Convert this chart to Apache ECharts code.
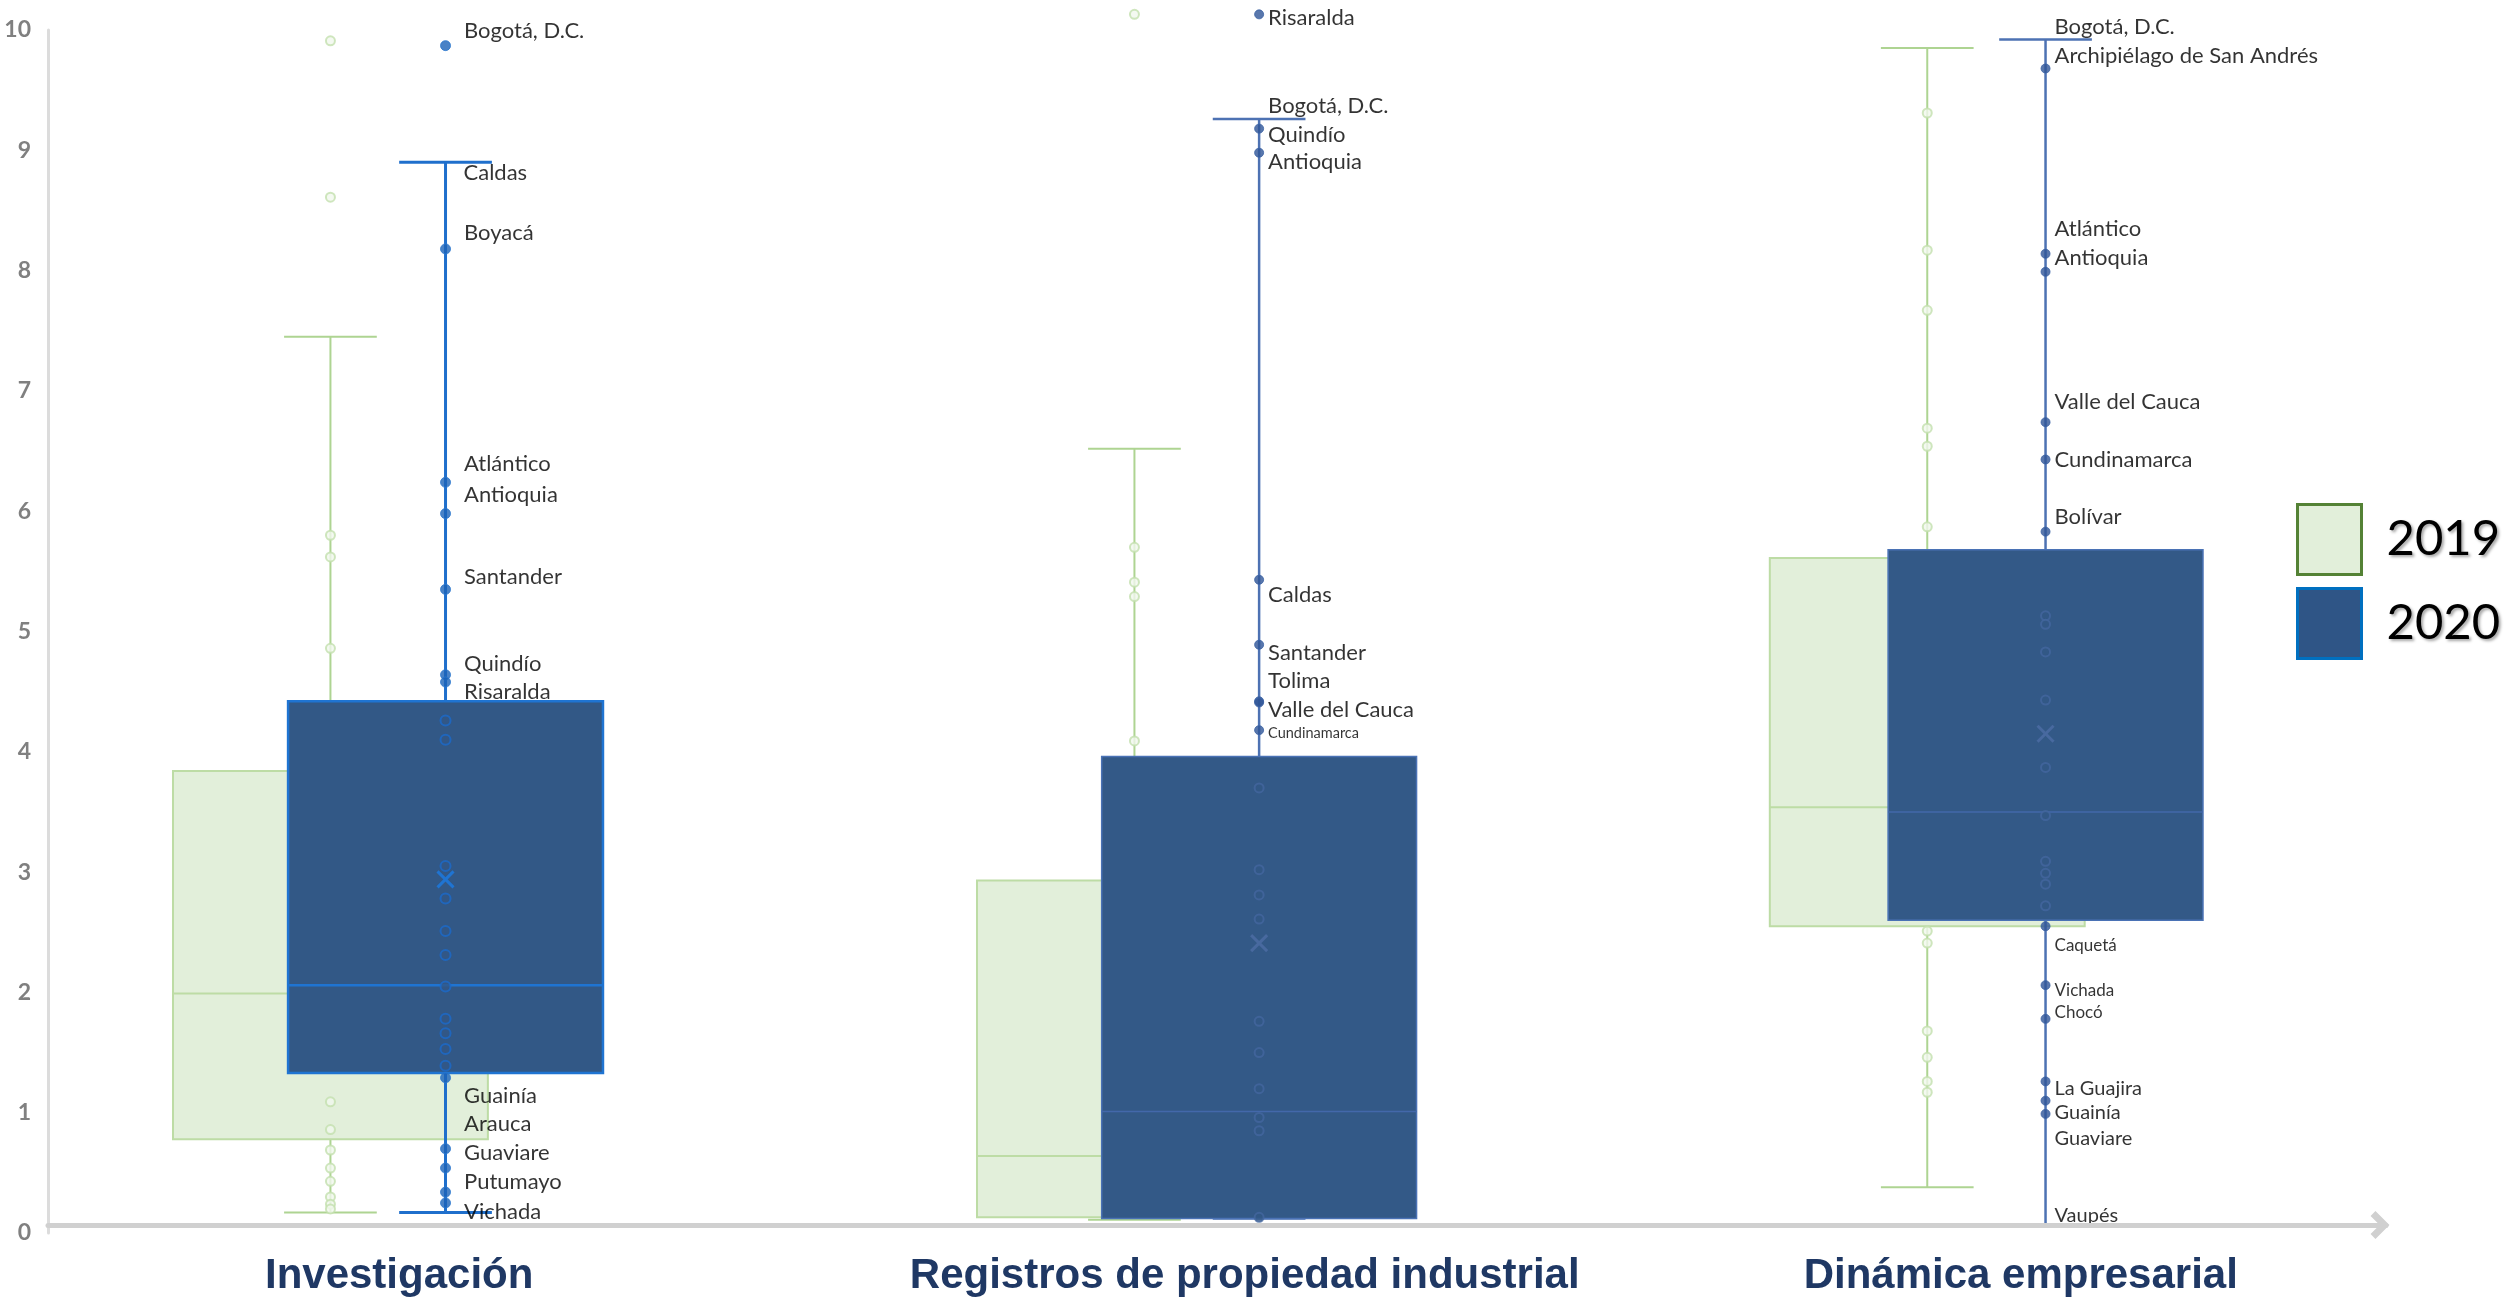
<!DOCTYPE html>
<html><head><meta charset="utf-8">
<script src="https://cdn.jsdelivr.net/npm/echarts@6/dist/echarts.min.js"></script>
<style>html,body{margin:0;padding:0;background:#fff}#c{width:2509px;height:1297px}</style>
</head><body><div id="c"></div>
<script>
// ---------------- DATA ----------------
const categories = ['Investigación', 'Registros de propiedad industrial', 'Dinámica empresarial'];
const years = ['2019', '2020'];
const yTicks = [0, 10, 1]; // min, max, interval

// box statistics: [whisker low, Q1, median, Q3, whisker high]
const box2019 = [
  [0.17, 0.78, 1.99, 3.84, 7.45],
  [0.11, 0.13, 0.64, 2.93, 6.52],
  [0.38, 2.55, 3.54, 5.61, 9.85]
];
const box2020 = [
  [0.17, 1.33, 2.06, 4.42, 8.90],
  [0.12, 0.12, 1.01, 3.96, 9.26],
  [0.06, 2.60, 3.50, 5.68, 9.92]
];
const mean2020 = [2.94, 2.41, 4.15];

// visible individual points
const pts2019Inv = [9.91, 8.61, 5.80, 5.62, 4.86, 1.09, 0.86, 0.69, 0.54, 0.43, 0.30, 0.24, 0.20];
const pts2019Reg = [10.13, 5.70, 5.41, 5.29, 4.09];
const pts2019Din = [9.31, 8.17, 7.67, 6.69, 6.54, 5.87, 2.51, 2.41, 1.68, 1.46, 1.26, 1.17];

const pts2020Inv = [
  ['Bogotá, D.C.', 9.87], ['Caldas', 8.90], ['Boyacá', 8.18], ['Atlántico', 6.24], ['Antioquia', 5.98],
  ['Santander', 5.35], ['Quindío', 4.64], ['Risaralda', 4.58], ['', 4.26], ['', 4.10], ['', 3.05],
  ['', 2.78], ['', 2.51], ['', 2.31], ['', 2.05], ['', 1.78], ['', 1.66], ['', 1.53], ['', 1.39],
  ['Guainía', 1.29], ['Arauca', 0.70], ['Guaviare', 0.54], ['Putumayo', 0.34], ['Vichada', 0.25]
];
const pts2020Reg = [
  ['Risaralda', 10.13], ['Bogotá, D.C.', 9.26], ['Quindío', 9.18], ['Antioquia', 8.98], ['Caldas', 5.43],
  ['Santander', 4.89], ['Tolima', 4.42], ['Valle del Cauca', 4.41], ['Cundinamarca', 4.18], ['', 3.70],
  ['', 3.02], ['', 2.81], ['', 2.61], ['', 1.76], ['', 1.50], ['', 1.20], ['', 0.96], ['', 0.85], ['', 0.13]
];
const pts2020Din = [
  ['Bogotá, D.C.', 9.92], ['Archipiélago de San Andrés', 9.68], ['Atlántico', 8.14], ['Antioquia', 7.99],
  ['Valle del Cauca', 6.74], ['Cundinamarca', 6.43], ['Bolívar', 5.83], ['', 5.13], ['', 5.06], ['', 4.83],
  ['', 4.43], ['', 3.87], ['', 3.47], ['', 3.09], ['', 2.99], ['', 2.90], ['', 2.72], ['Caquetá', 2.55],
  ['Vichada', 2.06], ['Chocó', 1.78], ['La Guajira', 1.26], ['Guainía', 1.10], ['Guaviare', 0.99], ['Vaupés', 0.06]
];

// ---------------- LAYOUT / STYLE ----------------
const X_MIN = -0.4254, X_MAX = 2.5;
const xPos = { '2019': [-0.072, 0.934, 1.926], '2020': [0.072, 1.090, 2.074] };
const BOX_W = 0.394, CAP_W = 0.116;
const labelPos = [0.014, 1.072, 2.043];
const labelDist = [13, 4, 4];
const labelDy = {
  '0|Bogotá, D.C.': -15, '0|Caldas': 11, '0|Boyacá': -16, '0|Atlántico': -18, '0|Antioquia': -19,
  '0|Santander': -12, '0|Quindío': -11, '0|Risaralda': 10, '0|Guainía': 18, '0|Arauca': -25,
  '0|Guaviare': -15, '0|Putumayo': -10, '0|Vichada': 9,
  '1|Risaralda': 4, '1|Bogotá, D.C.': -13, '1|Quindío': 6, '1|Antioquia': 9, '1|Caldas': 15,
  '1|Santander': 8, '1|Tolima': -20, '1|Valle del Cauca': 7, '1|Cundinamarca': 3,
  '2|Bogotá, D.C.': -13, '2|Archipiélago de San Andrés': -13, '2|Atlántico': -25, '2|Antioquia': -14,
  '2|Valle del Cauca': -20, '2|Cundinamarca': 0, '2|Bolívar': -15, '2|Caquetá': 19, '2|Vichada': 5,
  '2|Chocó': -6, '2|La Guajira': 7, '2|Guainía': 12, '2|Guaviare': 25, '2|Vaupés': -10
};
const labelSize = {
  '1|Cundinamarca': 14.5, '2|Caquetá': 17, '2|Vichada': 17, '2|Chocó': 17,
  '2|La Guajira': 20, '2|Guainía': 20, '2|Guaviare': 20, '2|Vaupés': 20
};

function boxStyle(year, i) {
  if (year === '2019') return { fill: '#e2efda', border: '#bddca5', bw: 2, whisker: '#aed492', ww: 2, median: '#bddca5', mw: 2 };
  if (i === 0) return { fill: '#325886', border: '#1f74d2', bw: 2.5, whisker: '#1f6fcc', ww: 3, median: '#1f74d2', mw: 2.5, mean: '#1f74d2' };
  return { fill: '#335987', border: '#4a72b5', bw: 1.5, whisker: '#4d72b3', ww: 2.5, median: '#4368aa', mw: 1.5, mean: '#48699f' };
}

function boxRender(year) {
  return function (params, api) {
    const i = api.value(0);
    const cx = api.coord([xPos[year][i], 0])[0];
    const y = k => api.coord([0, api.value(k)])[1];
    const yMin = y(1), yQ1 = y(2), yMed = y(3), yQ3 = y(4), yMax = y(5);
    const bw = api.size([BOX_W, 0])[0];
    const cw = api.size([CAP_W, 0])[0];
    const s = boxStyle(year, i);
    const ln = (x1, y1, x2, y2, c, w) => ({ type: 'line', shape: { x1, y1, x2, y2 }, style: { stroke: c, lineWidth: w } });
    const ch = [
      ln(cx, yQ3, cx, yMax, s.whisker, s.ww),
      ln(cx - cw / 2, yMax, cx + cw / 2, yMax, s.whisker, s.ww),
      ln(cx, yQ1, cx, yMin, s.whisker, s.ww),
      ln(cx - cw / 2, yMin, cx + cw / 2, yMin, s.whisker, s.ww),
      { type: 'rect', shape: { x: cx - bw / 2, y: yQ3, width: bw, height: yQ1 - yQ3 }, style: { fill: s.fill, stroke: s.border, lineWidth: s.bw } },
      ln(cx - bw / 2, yMed, cx + bw / 2, yMed, s.median, s.mw)
    ];
    const mv = api.value(6);
    if (s.mean && mv != null && !isNaN(mv)) {
      const ym = api.coord([0, mv])[1];
      const d = 8;
      ch.push(ln(cx - d, ym - d, cx + d, ym + d, s.mean, 3));
      ch.push(ln(cx - d, ym + d, cx + d, ym - d, s.mean, 3));
    }
    return { type: 'group', children: ch };
  };
}

const boxData2019 = box2019.map((b, i) => [i].concat(b, [null]));
const boxData2020 = box2020.map((b, i) => [i].concat(b, [mean2020[i]]));

function pts2019Data() {
  const out = [];
  [pts2019Inv, pts2019Reg, pts2019Din].forEach((list, i) => {
    list.forEach(v => out.push({ value: [xPos['2019'][i], v] }));
  });
  return out;
}
const dy2020 = [];
function pts2020Data() {
  const out = [];
  [pts2020Inv, pts2020Reg, pts2020Din].forEach((list, i) => {
    const b = box2020[i];
    list.forEach(([name, v]) => {
      const inside = v >= b[1] && v <= b[3];
      const onCap = v === b[4] || v === b[0];
      const bright = i === 0;
      const stroke = bright ? '#1c6acb' : (inside ? '#43679f' : '#2f5597');
      const key = i + '|' + name;
      const item = {
        name: name,
        value: [xPos['2020'][i], v],
        symbolSize: onCap ? 0 : (bright ? 10 : 9),
        itemStyle: inside ? { color: '#325886', borderColor: stroke, borderWidth: 2 }
                          : { color: bright ? '#1b63b8' : '#2f5597', borderColor: bright ? '#2b78d0' : '#3a62a4', borderWidth: 1 }
      };
      if (name) {
        item.label = {
          show: true, position: 'right', distance: labelDist[i] + (onCap ? 5 : 0),
          fontSize: labelSize[key] || 22
        };
      }
      dy2020.push(labelDy[key] || 0);
      out.push(item);
    });
  });
  return out;
}
const data2020 = pts2020Data();

const chart = echarts.init(document.getElementById('c'));
chart.setOption({
  animation: false,
  backgroundColor: '#ffffff',
  grid: { left: 48, right: 123, top: 30, bottom: 64 },
  legend: {
    orient: 'vertical', left: 2296, top: 503, padding: 0, itemWidth: 64, itemHeight: 70, itemGap: 11,
    selectedMode: false, icon: 'rect',
    textStyle: {
      fontFamily: 'Lato', fontSize: 49, color: '#000', padding: [0, 0, 0, 20],
      textShadowColor: 'rgba(0,0,0,0.35)', textShadowBlur: 3, textShadowOffsetX: 2, textShadowOffsetY: 2
    },
    data: [
      { name: years[0], itemStyle: { color: '#e2efda', borderColor: '#548235', borderWidth: 3 } },
      { name: years[1], itemStyle: { color: '#2f5586', borderColor: '#0070c0', borderWidth: 3 } }
    ]
  },
  xAxis: {
    type: 'value', min: X_MIN, max: X_MAX, offset: -8, z: 10,
    splitLine: { show: false }, axisTick: { show: false },
    axisLine: {
      show: true, onZero: false,
      lineStyle: { color: '#d0d0d0', width: 5 },
      symbol: ['none', 'path://M0,10 L10,0 L20,10 L16.5,13.5 L10,7 L3.5,13.5 Z'],
      symbolSize: [28, 22], symbolOffset: [0, -6]
    },
    axisLabel: {
      customValues: labelPos,
      formatter: v => { const k = labelPos.findIndex(p => Math.abs(p - v) < 1e-6); return k >= 0 ? categories[k] : ''; },
      fontFamily: 'Liberation Sans', fontWeight: 'bold', fontSize: 42, color: '#1f3864', margin: 30
    }
  },
  yAxis: {
    type: 'value', min: yTicks[0], max: yTicks[1], interval: yTicks[2],
    splitLine: { show: false }, axisTick: { show: false },
    axisLine: { show: true, onZero: false, lineStyle: { color: '#dcdcdc', width: 3 } },
    axisLabel: { fontFamily: 'Lato', fontWeight: 'bold', fontSize: 23, color: '#808080', margin: 17 }
  },
  series: [
    { name: years[0], type: 'custom', z: 2, clip: false, renderItem: boxRender('2019'),
      encode: { x: 0, y: [1, 2, 3, 4, 5] }, data: boxData2019,
      itemStyle: { color: '#e2efda', borderColor: '#548235' } },
    { name: years[0], type: 'scatter', z: 3, clip: false, symbol: 'circle', symbolSize: 9,
      itemStyle: { color: '#f1f8ee', borderColor: '#c3e0ae', borderWidth: 2 },
      data: pts2019Data() },
    { name: years[1], type: 'custom', z: 4, clip: false, renderItem: boxRender('2020'),
      encode: { x: 0, y: [1, 2, 3, 4, 5] }, data: boxData2020,
      itemStyle: { color: '#2f5586', borderColor: '#0070c0' } },
    { name: years[1], type: 'scatter', z: 5, clip: false, symbol: 'circle',
      label: { show: false, formatter: '{b}', color: '#000', fontFamily: 'Lato' },
      labelLayout: p => ({ dy: dy2020[p.dataIndex] || 0 }),
      data: data2020 }
  ]
});
</script>
</body></html>
